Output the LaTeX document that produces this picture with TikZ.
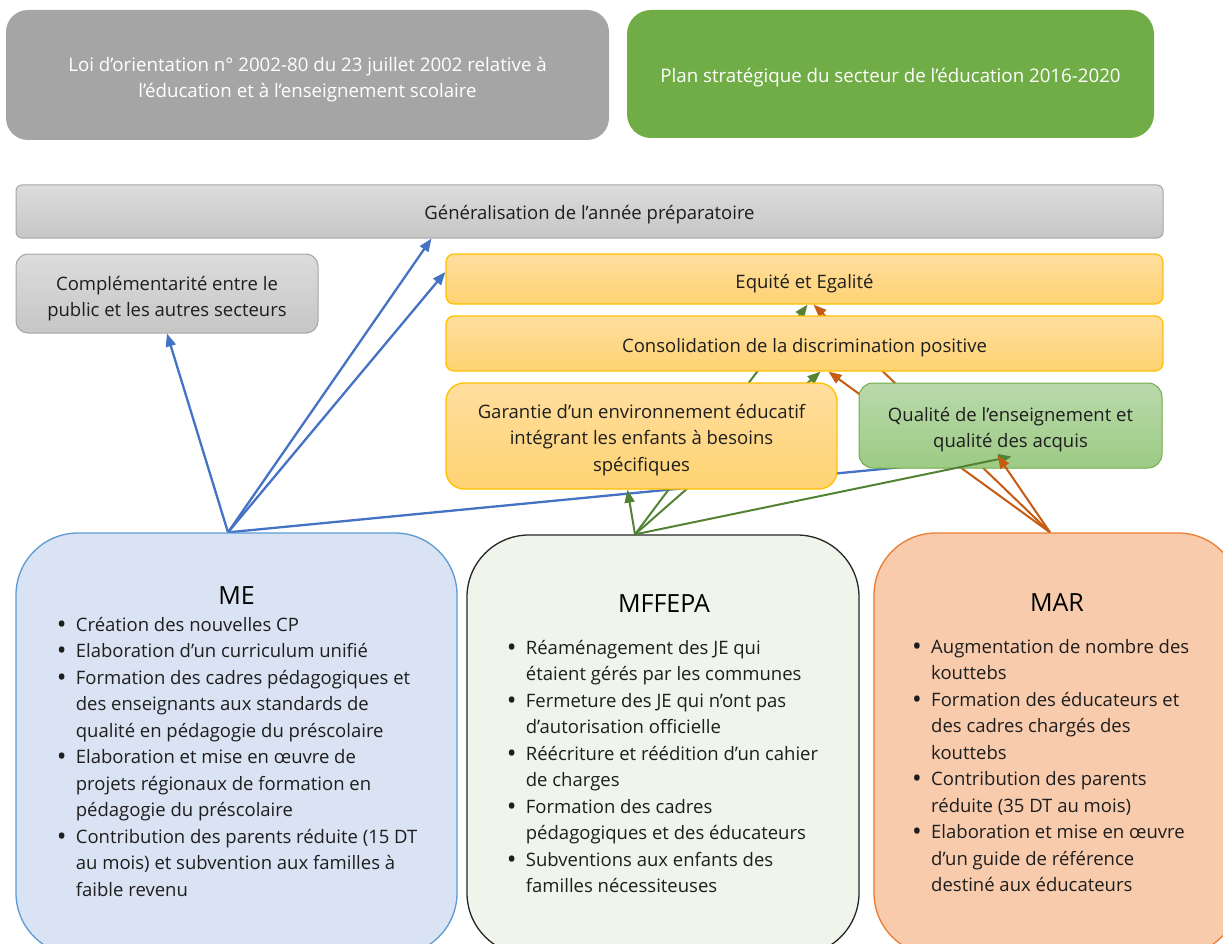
\documentclass[tikz,border=0pt]{standalone}
\usepackage{fontspec}
\usepackage{graphicx}
\setmainfont{Open Sans}
\usetikzlibrary{arrows.meta,calc}
\pgfdeclarelayer{bg}
\pgfsetlayers{bg,main}
\definecolor{txt}{HTML}{1E1E1E}
\definecolor{loigray}{HTML}{A5A5A5}
\definecolor{plangreen}{HTML}{70AD47}
\definecolor{grayline}{HTML}{A6A6A6}
\definecolor{graytop}{HTML}{DCDCDC}
\definecolor{graybot}{HTML}{C6C6C6}
\definecolor{orline}{HTML}{FFC000}
\definecolor{ortop}{HTML}{FFDE9F}
\definecolor{orbot}{HTML}{FFD372}
\definecolor{grline}{HTML}{70AD47}
\definecolor{grtop}{HTML}{B9D9AB}
\definecolor{grbot}{HTML}{9DCB85}
\definecolor{mefill}{HTML}{DAE3F3}
\definecolor{meline}{HTML}{5B9BD5}
\definecolor{mfffill}{HTML}{F0F5EB}
\definecolor{mffline}{HTML}{262626}
\definecolor{marfill}{HTML}{F8CBAD}
\definecolor{marline}{HTML}{ED7D31}
\definecolor{ablue}{HTML}{4472C4}
\definecolor{agreen}{HTML}{548235}
\definecolor{aorange}{HTML}{C55A11}
\newcommand\myfont{\fontsize{18.5}{26.5}\selectfont}
\newcommand\mytopfont{\fontsize{18.7}{26}\selectfont}
\newcommand\mytitlefont{\fontsize{25}{30}\selectfont}
\newcommand\mybul{\raisebox{-2.2pt}{\scalebox{1.4}{•}}}
\newcommand\bl[1]{\makebox[19pt][l]{\mybul}#1}
\newcommand\cl[1]{\hspace*{19pt}#1}
\begin{document}
\begin{tikzpicture}[x=1pt,y=-1pt,
  bx/.style={rectangle, inner sep=0pt},
  tx/.style={align=center, inner sep=0pt, font=\myfont, text=txt},
  toptx/.style={align=center, inner sep=0pt, font=\mytopfont, text=white},
  graybox/.style={bx, draw=grayline, line width=1pt, top color=graytop, bottom color=graybot},
  orbox/.style={bx, draw=orline, line width=1.3pt, top color=ortop, bottom color=orbot},
  grbox/.style={bx, draw=grline, line width=1pt, top color=grtop, bottom color=grbot},
  bigbox/.style={rectangle, rounded corners=62pt, line width=1.3pt, inner sep=0pt},
  ttl/.style={font=\mytitlefont, text=black, inner sep=0pt},
  lst/.style={font=\myfont, text=txt, align=left, inner sep=0pt, anchor=north west},
  arr/.style={line width=2pt, -{Triangle[length=13pt,width=10pt]}},
  bluearr/.style={arr, draw=ablue, fill=ablue, line width=2.3pt},
  greenarr/.style={arr, draw=agreen, fill=agreen},
  orangearr/.style={arr, draw=aorange, fill=aorange}
]
\useasboundingbox (0,0) rectangle (1223,944);

% top boxes
\node[bx, fill=loigray, rounded corners=22pt, minimum width=603pt, minimum height=130pt] (loi) at (307.5,75) {};
\node[toptx] (loiT) at ($(loi.center)+(0,5)$)
  {Loi d’orientation n° 2002-80 du 23 juillet 2002 relative à\\l’éducation et à l’enseignement scolaire};
\node[bx, fill=plangreen, rounded corners=24pt, minimum width=527pt, minimum height=128pt] (plan) at (890.5,74) {};
\node[toptx] (planT) at ($(plan.center)+(0,4)$)
  {Plan stratégique du secteur de l’éducation 2016-2020};

% middle boxes
\node[graybox, rounded corners=6pt, minimum width=1147pt, minimum height=53pt] (gen) at (589.5,211.5) {};
\node[tx] (genT) at ($(gen.center)+(0,3)$) {Généralisation de l’année préparatoire};
\node[graybox, rounded corners=12pt, minimum width=302pt, minimum height=79pt] (comp) at (167,293.5) {};
\node[tx] (compT) at ($(comp.center)+(0,5)$) {Complémentarité entre le\\public et les autres secteurs};
\node[orbox, rounded corners=8pt, minimum width=717pt, minimum height=50pt] (equ) at (804.5,279) {};
\node[tx] (equT) at ($(equ.center)+(0,5)$) {Equité et Egalité};
\node[orbox, rounded corners=8pt, minimum width=717pt, minimum height=55pt] (cons) at (804.5,343.5) {};
\node[tx] (consT) at ($(cons.center)+(0,4)$) {Consolidation de la discrimination positive};
\node[orbox, rounded corners=18pt, minimum width=391pt, minimum height=106pt] (gar) at (641.5,436) {};
\node[tx] (garT) at ($(gar.center)+(0,4)$) {Garantie d’un environnement éducatif\\intégrant les enfants à besoins\\spécifiques};
\node[grbox, rounded corners=14pt, minimum width=303pt, minimum height=85pt] (qual) at (1010.5,425.5) {};
\node[tx] (qualT) at ($(qual.center)+(0,4)$) {Qualité de l’enseignement et\\qualité des acquis};

% bottom boxes
\node[bigbox, draw=meline, fill=mefill, minimum width=441pt, minimum height=422pt] (me) at (236.5,744) {};
\node[bigbox, draw=mffline, fill=mfffill, minimum width=392pt, minimum height=420pt] (mff) at (663,745) {};
\node[bigbox, draw=marline, fill=marfill, minimum width=366pt, minimum height=422pt] (mar) at (1057,744) {};

\node[ttl] (meT) at (236.5,596) {ME};
\node[ttl] (mffT) at (664,604) {MFFEPA};
\node[ttl] (marT) at (1057,603) {MAR};

\node[lst] (meL) at (56.7,612.5) {\strut\bl{Création des nouvelles CP}\\
\bl{Elaboration d’un curriculum unifié}\\
\bl{Formation des cadres pédagogiques et}\\
\cl{des enseignants aux standards de}\\
\cl{qualité en pédagogie du préscolaire}\\
\bl{Elaboration et mise en œuvre de}\\
\cl{projets régionaux de formation en}\\
\cl{pédagogie du préscolaire}\\
\bl{Contribution des parents réduite (15 DT}\\
\cl{au mois) et subvention aux familles à}\\
\cl{faible revenu}};

\node[lst] (mffL) at (506.7,635.5) {\strut\bl{Réaménagement des JE qui}\\
\cl{étaient gérés par les communes}\\
\bl{Fermeture des JE qui n’ont pas}\\
\cl{d’autorisation officielle}\\
\bl{Réécriture et réédition d’un cahier}\\
\cl{de charges}\\
\bl{Formation des cadres}\\
\cl{pédagogiques et des éducateurs}\\
\bl{Subventions aux enfants des}\\
\cl{familles nécessiteuses}};

\node[lst] (marL) at (912,634.5) {\strut\bl{Augmentation de nombre des}\\
\cl{kouttebs}\\
\bl{Formation des éducateurs et}\\
\cl{des cadres chargés des}\\
\cl{kouttebs}\\
\bl{Contribution des parents}\\
\cl{réduite (35 DT au mois)}\\
\bl{Elaboration et mise en œuvre}\\
\cl{d’un guide de référence}\\
\cl{destiné aux éducateurs}};

% arrow origins
\coordinate (meTop) at ($(me.north)+(-8.5,0)$);
\coordinate (mffTop) at ($(mff.north)+(-28,0)$);
\coordinate (marTop) at ($(mar.north)+(-7,0)$);

\begin{pgfonlayer}{bg}
\draw[bluearr] (meTop) -- (comp.south);
\draw[bluearr] (meTop) -- ($(gen.south west)+(416,0)$);
\draw[bluearr] (meTop) -- ($(equ.west)+(0,-7)$);
\draw[draw=ablue, line width=2.3pt] (meTop) -- ($(qual.south west)+(60,-3)$);
\draw[greenarr] (mffTop) -- ($(gar.south)+(-14,0)$);
\draw[greenarr] (mffTop) -- ($(cons.south)+(16,0)$);
\draw[greenarr] (mffTop) -- ($(equ.south)+(3,0)$);
\draw[orangearr] (marTop) -- ($(cons.south)+(24,0)$);
\draw[orangearr] (marTop) -- ($(equ.south)+(9,0)$);
\end{pgfonlayer}

\draw[greenarr] (mffTop) -- ($(qual.center)+(1,31)$);
\draw[orangearr] (marTop) -- ($(qual.center)+(-13,30)$);
\end{tikzpicture}
\end{document}
